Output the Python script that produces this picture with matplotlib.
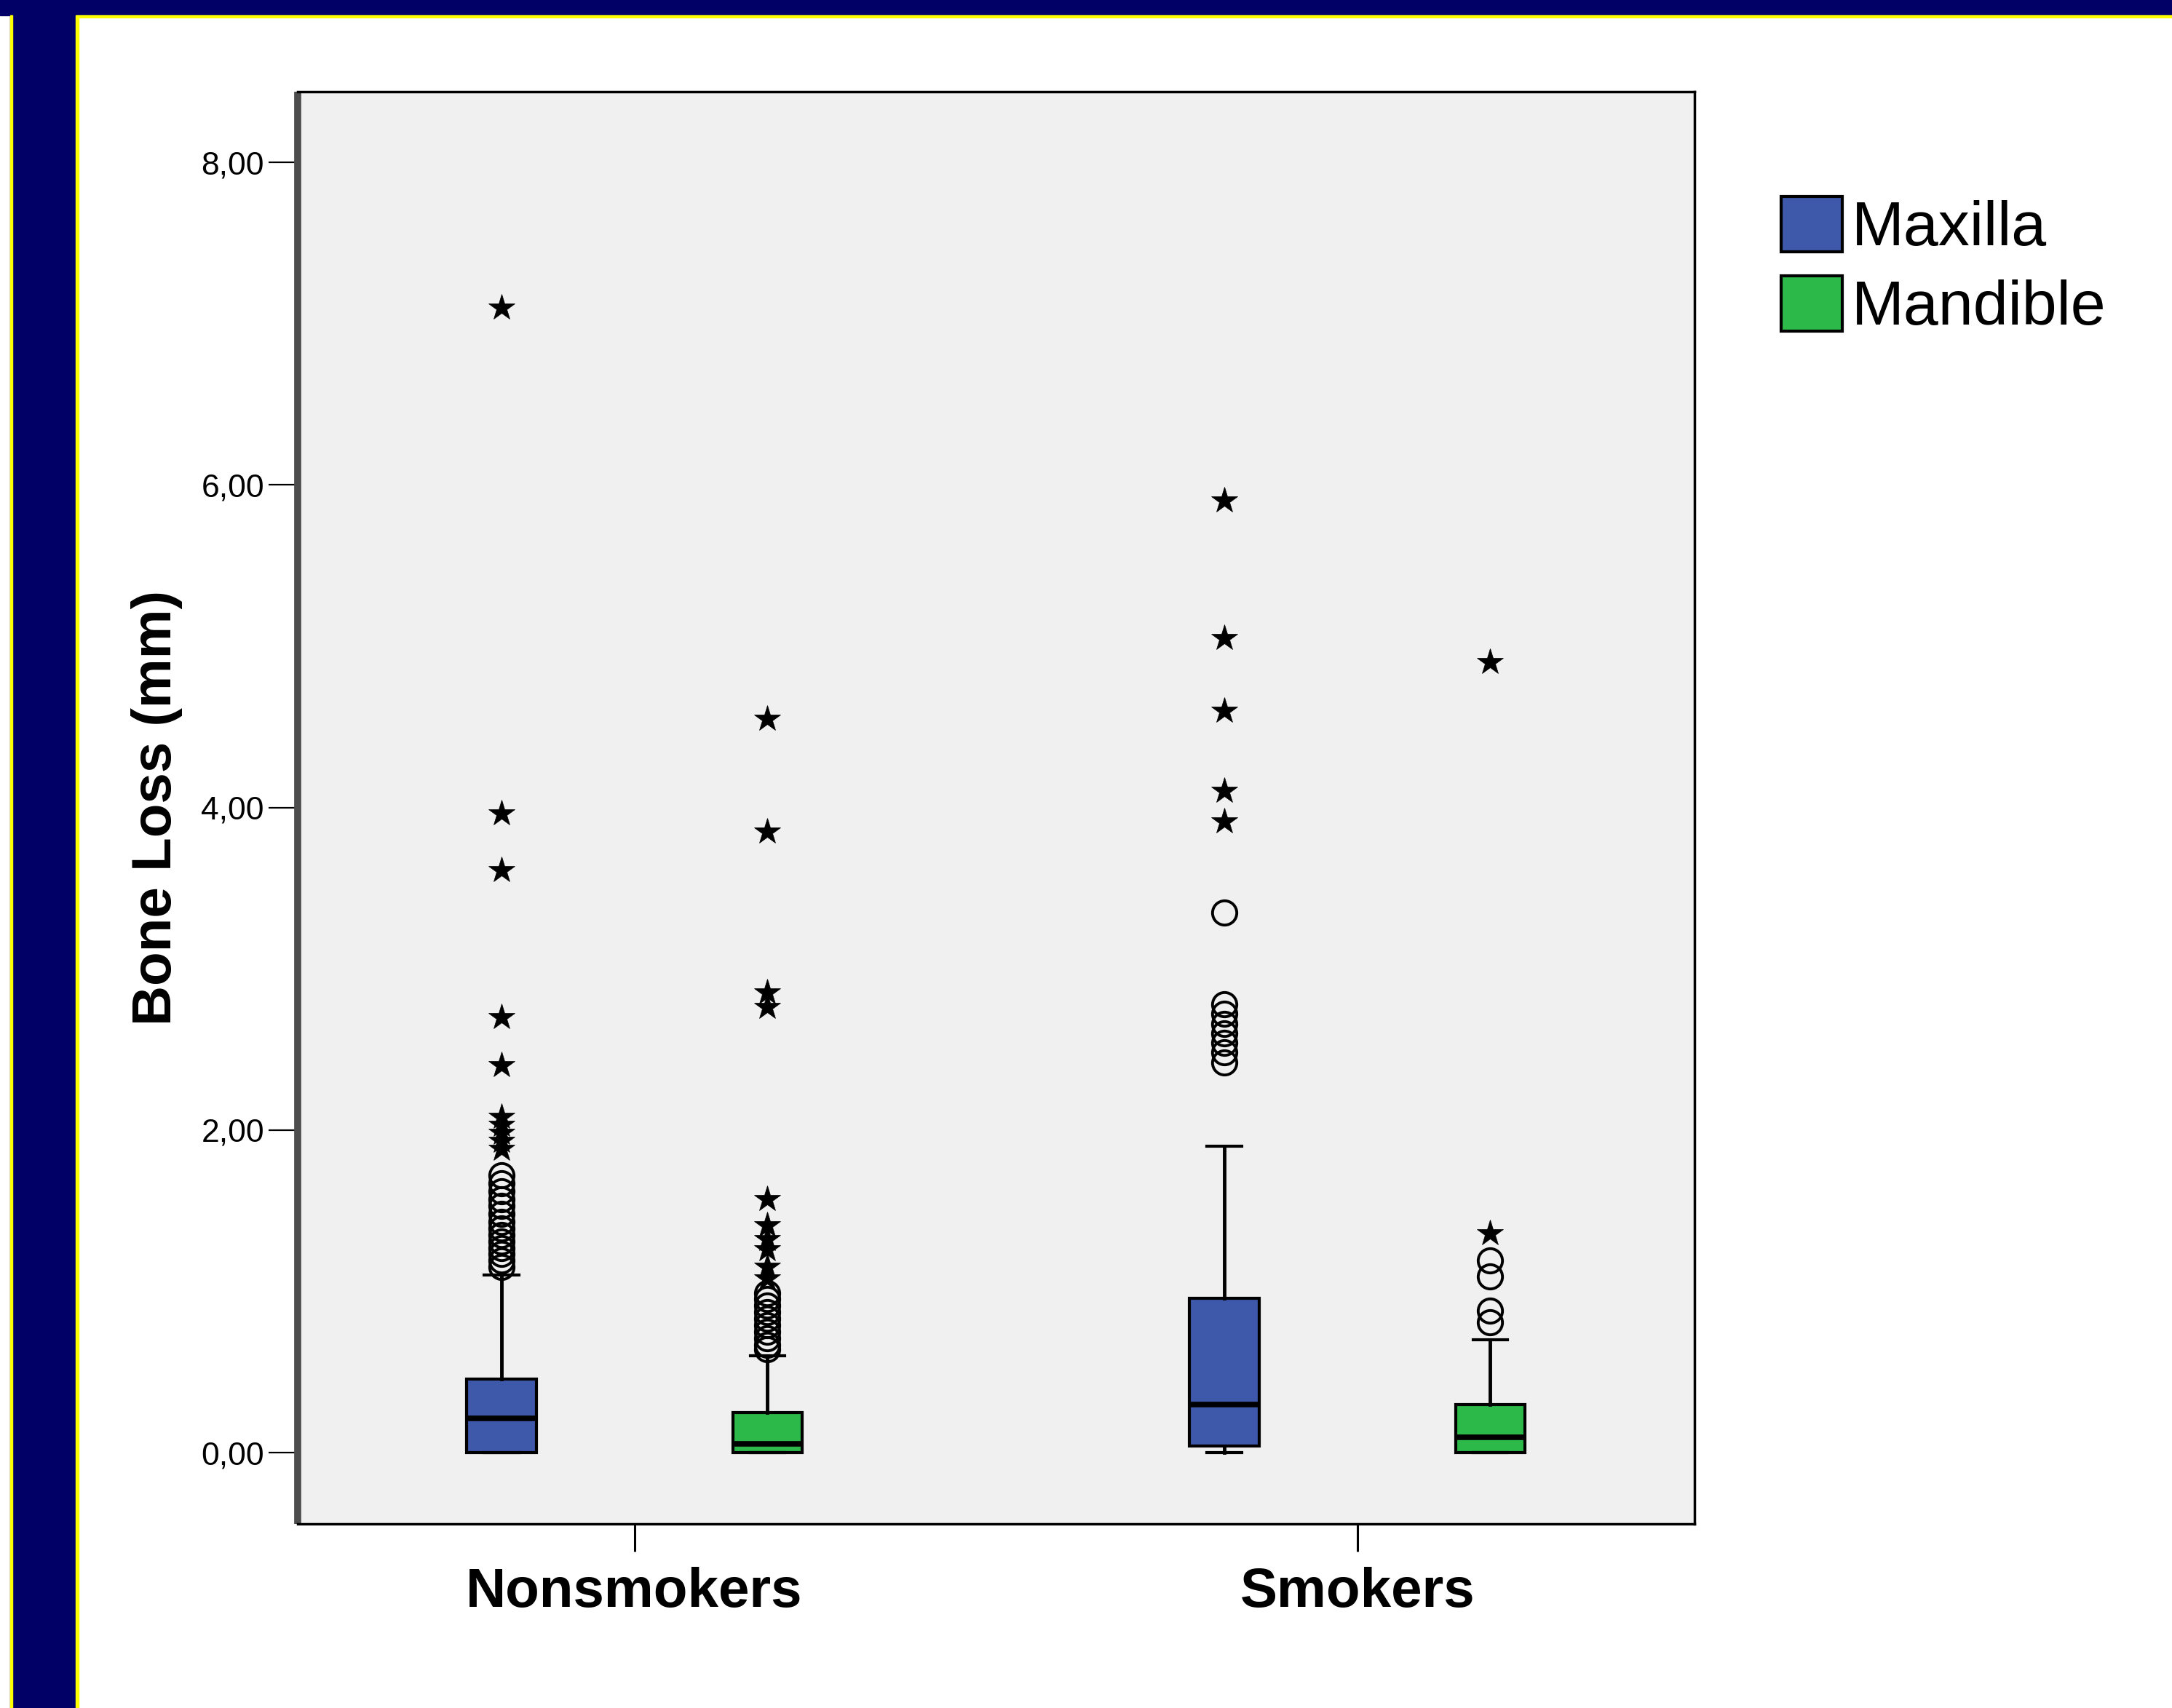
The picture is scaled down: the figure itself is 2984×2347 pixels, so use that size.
import matplotlib
matplotlib.use("Agg")
import numpy as np
import matplotlib.pyplot as plt
from matplotlib.patches import Patch, Rectangle

plt.rcParams['font.family'] = ['Liberation Sans', 'DejaVu Sans']

groups = ["Nonsmokers", "Smokers"]
sites = ["Maxilla", "Mandible"]
site_colors = ["#3e58aa", "#2db84a"]

# box order: Nonsmokers-Maxilla, Nonsmokers-Mandible, Smokers-Maxilla, Smokers-Mandible
q1 = [0.0, 0.0, 0.04, 0.0]
medians = [0.21, 0.055, 0.30, 0.095]
q3 = [0.455, 0.25, 0.955, 0.30]
whisk_lo = [0.0, 0.0, 0.0, 0.0]
whisk_hi = [1.10, 0.60, 1.90, 0.70]

# mild outliers (circles)
outliers = [
    [1.15, 1.19, 1.23, 1.27, 1.31, 1.35, 1.39, 1.43, 1.48, 1.53, 1.57, 1.62, 1.67, 1.72],
    [0.64, 0.67, 0.71, 0.75, 0.79, 0.83, 0.87, 0.91, 0.95, 0.99],
    [2.42, 2.48, 2.54, 2.60, 2.66, 2.72, 2.78, 3.35],
    [0.81, 0.88, 1.09, 1.19],
]
# extreme outliers (stars)
extremes = [
    [1.88, 1.93, 1.98, 2.03, 2.08, 2.40, 2.70, 3.61, 3.96, 7.10],
    [1.08, 1.15, 1.26, 1.32, 1.41, 1.57, 2.76, 2.85, 3.85, 4.55],
    [3.91, 4.10, 4.60, 5.05, 5.90],
    [1.36, 4.90],
]

yticks = [0, 2, 4, 6, 8]
ytick_labels = ["0,00", "2,00", "4,00", "6,00", "8,00"]

offset = 0.184
box_w = 0.096

fig = plt.figure(figsize=(29.84, 23.47), dpi=100)
fig.patch.set_facecolor("white")

# slide frame
fig.add_artist(Rectangle((0.0047, 0), 0.0302, 1, transform=fig.transFigure, color="#000066", zorder=0))
fig.add_artist(Rectangle((0, 1 - 0.0090), 1, 0.0090, transform=fig.transFigure, color="#000066", zorder=0))
fig.add_artist(Rectangle((0.0349, 0), 0.0013, 1 - 0.0090, transform=fig.transFigure, color="#ffff00", zorder=0))
fig.add_artist(Rectangle((0.0362, 1 - 0.0102), 1, 0.0012, transform=fig.transFigure, color="#ffff00", zorder=0))
fig.add_artist(Rectangle((0.0047, 0), 0.0010, 1 - 0.0090, transform=fig.transFigure, color="#ffff00", zorder=0))

ax = fig.add_axes([0.137, 0.108, 0.643, 0.8385])
ax.set_facecolor("#f0f0f0")

stats = []
positions = []
for i in range(4):
    stats.append(dict(q1=q1[i], med=medians[i], q3=q3[i],
                      whislo=whisk_lo[i], whishi=whisk_hi[i], fliers=[]))
    g, s = divmod(i, 2)
    positions.append(g + (-offset if s == 0 else offset))

bp = ax.bxp(stats, positions=positions, widths=box_w, capwidths=box_w / 2,
            patch_artist=True, showfliers=False,
            boxprops=dict(linewidth=3, edgecolor="black"),
            medianprops=dict(color="black", linewidth=5.5, solid_capstyle="butt"),
            whiskerprops=dict(color="black", linewidth=3.5),
            capprops=dict(color="black", linewidth=3))
for i, box in enumerate(bp["boxes"]):
    box.set_facecolor(site_colors[i % 2])

for i in range(4):
    x = positions[i]
    ax.plot(np.full(len(outliers[i]), x), outliers[i], linestyle="none", marker="o",
            markersize=24, markerfacecolor="none", markeredgecolor="black",
            markeredgewidth=2.8, zorder=4)
    ax.plot(np.full(len(extremes[i]), x), extremes[i], linestyle="none", marker="*",
            markersize=27, markerfacecolor="black", markeredgecolor="black",
            markeredgewidth=0.5, zorder=4)

ax.set_xlim(-0.466, 1.466)
ax.set_ylim(-0.44, 8.44)
ax.set_xticks(range(len(groups)))
ax.set_xticklabels(groups, fontsize=55, fontweight="bold")
ax.set_yticks(yticks)
ax.set_yticklabels(ytick_labels, fontsize=32)
ax.tick_params(axis="y", direction="out", length=29, width=1.6, pad=4)
ax.tick_params(axis="x", direction="out", length=27, width=2.2, pad=16)

ax.set_ylabel("Bone Loss (mm)", fontsize=55, fontweight="bold")
ax.yaxis.set_label_coords(-0.082, 0.5)

for side in ["top", "right", "bottom"]:
    ax.spines[side].set_linewidth(2.5)
    ax.spines[side].set_color("black")
ax.spines["left"].set_linewidth(7)
ax.spines["left"].set_color("#4d4d4d")
ax.spines["left"].set_capstyle("butt")

handles = [Patch(facecolor=c, edgecolor="black", linewidth=3) for c in site_colors]
fig.legend(handles, sites, loc="upper left", bbox_to_anchor=(0.82, 0.885),
           frameon=False, fontsize=62, handlelength=0.98, handleheight=0.98,
           handletextpad=0.15, labelspacing=0.27, borderpad=0, borderaxespad=0)

fig.savefig("out.png", dpi=100)
